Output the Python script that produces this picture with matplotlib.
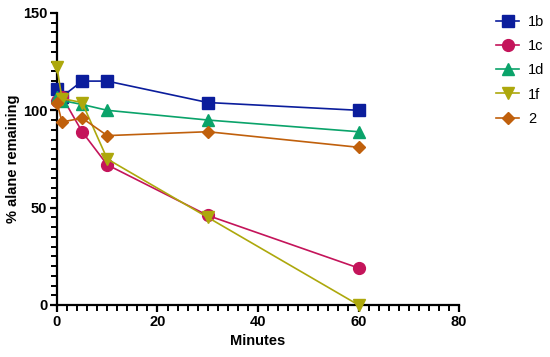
import matplotlib.pyplot as plt
from matplotlib.ticker import MultipleLocator

plt.rcParams['font.family'] = ['Liberation Sans', 'DejaVu Sans']

minutes = [0, 1, 5, 10, 30, 60]
s_1b = [111, 107, 115, 115, 104, 100]
s_1c = [105, 107, 89, 72, 46, 19]
s_1d = [107, 105, 103, 100, 95, 89]
s_1f = [122, 106, 104, 75, 45, 0]
s_2 = [104, 94, 96, 87, 89, 81]

series = [
    ("1b", s_1b, '#0b1d9c', 's'),
    ("1c", s_1c, '#c4145a', 'o'),
    ("1d", s_1d, '#0aa36a', '^'),
    ("1f", s_1f, '#ada80c', 'v'),
    ("2", s_2, '#c0600c', 'D'),
]

fig = plt.figure(figsize=(5.5, 3.57), dpi=100)
ax = fig.add_axes([0.1036, 0.1457, 0.731, 0.818])

for name, vals, color, mk in series:
    ms = 6.5 if mk == 'D' else 8.5
    ax.plot(minutes, vals, color=color, marker=mk, markersize=ms,
            linewidth=1.2, label=name, clip_on=False, zorder=3)

ax.set_xlim(0, 80)
ax.set_ylim(0, 150)
ax.xaxis.set_major_locator(MultipleLocator(20))
ax.xaxis.set_minor_locator(MultipleLocator(2))
ax.yaxis.set_major_locator(MultipleLocator(50))
ax.yaxis.set_minor_locator(MultipleLocator(5))

for side in ['top', 'right']:
    ax.spines[side].set_visible(False)
for side in ['left', 'bottom']:
    ax.spines[side].set_linewidth(1.6)

ax.tick_params(which='major', length=5, width=1.6, labelsize=10.5, pad=2)
ax.tick_params(which='minor', length=4, width=1.4)
for lbl in ax.get_xticklabels() + ax.get_yticklabels():
    lbl.set_fontweight('bold')

ax.set_xlabel("Minutes", fontsize=10.5, fontweight='bold', labelpad=4)
ax.set_ylabel("% alane remaining", fontsize=10.5, fontweight='bold', labelpad=2)

ax.legend(loc='upper left', bbox_to_anchor=(0.878, 0.995), bbox_transform=fig.transFigure,
          frameon=False, fontsize=10.5, handlelength=1.6, labelspacing=0.7,
          handletextpad=0.6)

fig.savefig("out.png", dpi=100)
